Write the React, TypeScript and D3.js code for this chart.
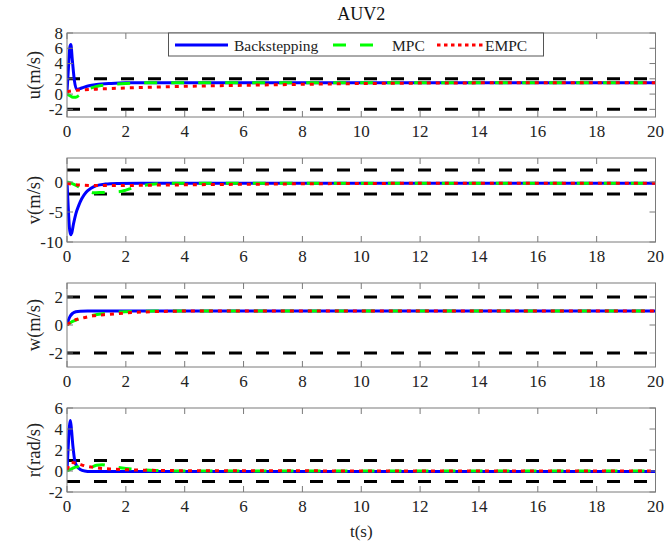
import React from "react";
import * as d3 from "d3";

// ---------- data ----------
const xTicks = [0, 2, 4, 6, 8, 10, 12, 14, 16, 18, 20];
const seriesNames = ["Backstepping", "MPC", "EMPC"];
const panelLabels = ["u(m/s)", "v(m/s)", "w(m/s)", "r(rad/s)"];
const panelYDomains: [number, number][] = [[-3, 8], [-10, 4], [-3, 3], [-2, 6]];
const panelYTicks = [[-2, 0, 2, 4, 6, 8], [-10, -5, 0], [-2, 0, 2], [-2, 0, 2, 4, 6]];
const panelBounds = [2, 2, 2, 1];

// u
const uT_bs = [0, 0.05, 0.1, 0.13, 0.18, 0.25, 0.33, 0.5, 0.75, 1, 1.5, 2, 3, 5, 10, 20];
const uV_bs = [0.3, 3.5, 6.2, 6.5, 4.5, 1.8, 0.6, 0.8, 1.1, 1.25, 1.4, 1.48, 1.5, 1.5, 1.5, 1.5];
const uT_mpc = [0, 0.1, 0.2, 0.3, 0.4, 0.5, 0.7, 1, 1.5, 2, 3, 5, 20];
const uV_mpc = [0, -0.2, -0.4, -0.4, -0.2, 0.15, 0.6, 1.0, 1.25, 1.4, 1.5, 1.5, 1.5];
const uT_empc = [0, 0.2, 0.5, 1, 2, 3, 4, 6, 8, 10, 12, 15, 20];
const uV_empc = [0.3, 0.45, 0.55, 0.65, 0.8, 0.92, 1.02, 1.15, 1.28, 1.38, 1.44, 1.48, 1.5];

// v
const vT_bs = [0, 0.04, 0.08, 0.12, 0.16, 0.22, 0.3, 0.4, 0.5, 0.65, 0.8, 1, 1.3, 1.7, 2.5, 5, 20];
const vV_bs = [0, -4, -7.5, -8.8, -8.5, -7, -5.3, -3.9, -2.8, -1.7, -1.1, -0.6, -0.35, -0.25, -0.2, -0.2, -0.2];
const vT_mpc = [0, 0.2, 0.4, 0.6, 0.9, 1.2, 1.5, 1.8, 2.0, 2.25, 2.7, 3.3, 4, 20];
const vV_mpc = [0, -0.3, -0.8, -1.3, -1.8, -1.75, -1.7, -1.6, -1.35, -0.95, -0.5, -0.25, -0.2, -0.2];
const vT_empc = [0, 0.3, 0.6, 1, 1.5, 2, 3, 4, 6, 8, 12, 20];
const vV_empc = [-0.2, -0.45, -0.55, -0.6, -0.6, -0.58, -0.52, -0.47, -0.38, -0.3, -0.22, -0.2];

// w
const wT_bs = [0, 0.05, 0.1, 0.2, 0.3, 0.45, 0.7, 1, 2, 20];
const wV_bs = [0, 0.35, 0.6, 0.85, 0.95, 0.99, 1.0, 1.0, 1.0, 1.0];
const wT_mpc = [0, 0.1, 0.3, 0.5, 0.8, 1.2, 1.6, 2, 2.5, 3, 20];
const wV_mpc = [0, 0.15, 0.35, 0.5, 0.65, 0.8, 0.9, 0.95, 0.98, 1.0, 1.0];
const wT_empc = [0, 0.2, 0.5, 0.9, 1.4, 1.9, 2.3, 2.9, 3.5, 4.5, 20];
const wV_empc = [0, 0.3, 0.48, 0.66, 0.76, 0.84, 0.9, 0.95, 0.98, 1.0, 1.0];

// r
const rT_bs = [0, 0.04, 0.08, 0.11, 0.14, 0.2, 0.27, 0.35, 0.45, 0.6, 0.8, 1.2, 20];
const rV_bs = [0, 2.2, 4.2, 4.8, 4.3, 2.4, 0.9, 0.4, 0.15, 0, -0.05, -0.05, -0.05];
const rT_mpc = [0, 0.15, 0.35, 0.5, 0.65, 0.8, 1.0, 1.2, 1.5, 2, 2.5, 3, 4, 20];
const rV_mpc = [0, 0.2, 0.4, 0.25, 0.15, 0.3, 0.55, 0.6, 0.45, 0.25, 0.12, 0.05, 0, 0];
const rT_empc = [0, 0.15, 0.3, 0.6, 1, 1.46, 2.26, 3.2, 5, 20];
const rV_empc = [0.1, 0.8, 0.75, 0.5, 0.3, 0.2, 0.1, 0.05, 0.02, 0];

const panelData = [
  [[uT_bs, uV_bs], [uT_mpc, uV_mpc], [uT_empc, uV_empc]],
  [[vT_bs, vV_bs], [vT_mpc, vV_mpc], [vT_empc, vV_empc]],
  [[wT_bs, wV_bs], [wT_mpc, wV_mpc], [wT_empc, wV_empc]],
  [[rT_bs, rV_bs], [rT_mpc, rV_mpc], [rT_empc, rV_empc]],
];

// ---------- styles ----------
const W = 665, H = 546;
const left = 67, right = 655.5;
const tops = [33, 158, 283, 408];
const ph = 84;
const FONT = "'Liberation Serif', 'Times New Roman', serif";
const colors = ["#0000ff", "#00ff00", "#ff0000"];
const dashes = ["", "13 14", "4 5"];
const lw = 3;
const tf = { fontFamily: FONT };

export default function App() {
  const x = d3.scaleLinear().domain([0, 20]).range([left, right]);
  return (
    <svg width={W} height={H} style={{ position: "absolute", left: 0, top: 0, background: "#fff", fontFamily: FONT }}>
      <rect x={0} y={0} width={W} height={H} fill="#fff" />
      <text x={(left + right) / 2} y={20} textAnchor="middle" fontSize={18} fill="#111" style={tf}>AUV2</text>
      {panelData.map((series, pi) => {
        const top = tops[pi];
        const y = d3.scaleLinear().domain(panelYDomains[pi]).range([top + ph, top]);
        const line = d3.line<[number, number]>().x(d => x(d[0])).y(d => y(d[1])).curve(d3.curveMonotoneX);
        const b = panelBounds[pi];
        const clipId = `clip${pi}`;
        return (
          <g key={pi}>
            <defs>
              <clipPath id={clipId}>
                <rect x={left} y={top} width={right - left} height={ph} />
              </clipPath>
            </defs>
            <g clipPath={`url(#${clipId})`}>
              {[b, -b].map((bv, i) => (
                <line key={i} x1={left} x2={right} y1={y(bv)} y2={y(bv)} stroke="#000" strokeWidth={3} strokeDasharray="13 14" />
              ))}
              {series.map(([ts, vs], si) => (
                <path key={si} d={line(ts.map((t, k) => [t, vs[k]] as [number, number])) || ""} fill="none"
                  stroke={colors[si]} strokeWidth={lw} strokeDasharray={dashes[si] || undefined} />
              ))}
            </g>
            <rect x={left} y={top} width={right - left} height={ph} fill="none" stroke="#7a7a7a" strokeWidth={1} />
            {xTicks.map(t => (
              <g key={t}>
                <line x1={x(t)} x2={x(t)} y1={top + ph} y2={top + ph - 6} stroke="#7a7a7a" />
                <line x1={x(t)} x2={x(t)} y1={top} y2={top + 6} stroke="#7a7a7a" />
                <text x={x(t)} y={top + ph + 20} textAnchor="middle" fontSize={17} fill="#222" style={tf}>{t}</text>
              </g>
            ))}
            {panelYTicks[pi].map(t => (
              <g key={t}>
                <line x1={left} x2={left + 6} y1={y(t)} y2={y(t)} stroke="#7a7a7a" />
                <line x1={right} x2={right - 6} y1={y(t)} y2={y(t)} stroke="#7a7a7a" />
                <text x={left - 4} y={y(t)} dy="0.35em" textAnchor="end" fontSize={17} fill="#222" style={tf}>{t < 0 ? "-" + Math.abs(t) : t}</text>
              </g>
            ))}
            <text transform={`translate(${34},${top + ph / 2}) rotate(-90)`} textAnchor="middle" dy="0.35em" fontSize={18.5} fill="#222" style={tf}>{panelLabels[pi]}</text>
          </g>
        );
      })}
      <text x={(left + right) / 2} y={537} textAnchor="middle" fontSize={17} fill="#222" style={tf}>t(s)</text>
      <g>
        <rect x={168.5} y={33} width={375} height={23} fill="#fff" stroke="#555" strokeWidth={1} />
        <line x1={175} x2={228} y1={45} y2={45} stroke={colors[0]} strokeWidth={lw} />
        <text x={234} y={50.5} fontSize={15.5} fill="#222" style={tf}>{seriesNames[0]}</text>
        <line x1={333} x2={386} y1={45} y2={45} stroke={colors[1]} strokeWidth={lw} strokeDasharray="13 14" />
        <text x={392} y={50.5} fontSize={15.5} fill="#222" style={tf}>{seriesNames[1]}</text>
        <line x1={437} x2={483} y1={45} y2={45} stroke={colors[2]} strokeWidth={lw} strokeDasharray="3.5 3.5" />
        <text x={485} y={50.5} fontSize={15.5} fill="#222" style={tf}>{seriesNames[2]}</text>
      </g>
    </svg>
  );
}
